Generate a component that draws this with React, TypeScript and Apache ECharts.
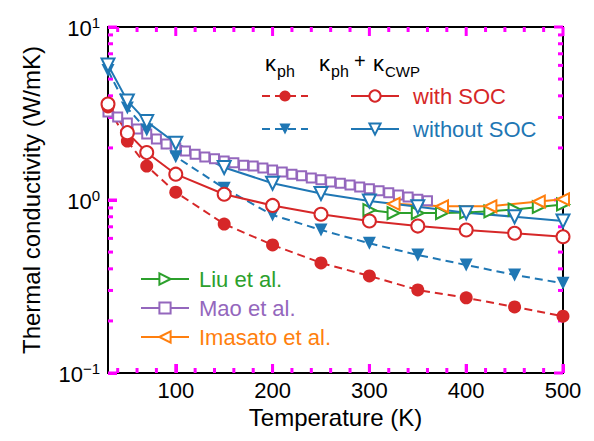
import React, { useEffect, useRef } from "react";
import * as echarts from "echarts";

const FONT = '"Liberation Sans", Arial, Helvetica, sans-serif';
const RED = "#d62728";
const BLUE = "#1f77b4";
const GREEN = "#2ca02c";
const PURPLE = "#9467bd";
const ORANGE = "#ff7f0e";
const TICK = "#ff00ff";

const temps = [30, 50, 70, 100, 150, 200, 250, 300, 350, 400, 450, 500];
const kphSOC = [3.45, 2.19, 1.57, 1.11, 0.726, 0.55, 0.433, 0.364, 0.302, 0.272, 0.241, 0.213];
const kphCwpSOC = [3.59, 2.45, 1.88, 1.41, 1.08, 0.93, 0.827, 0.756, 0.707, 0.671, 0.642, 0.613];
const kphNoSOC = [5.6, 3.4, 2.54, 1.78, 1.17, 0.819, 0.671, 0.562, 0.481, 0.421, 0.369, 0.33];
const kphCwpNoSOC = [6.03, 3.74, 2.84, 2.13, 1.54, 1.25, 1.09, 0.987, 0.915, 0.845, 0.8, 0.756];

const liuT = [300, 325, 350, 375, 400, 425, 450, 475, 500];
const liuK = [0.875, 0.841, 0.841, 0.841, 0.847, 0.86, 0.881, 0.911, 0.942];
const maoT = [30, 40, 50, 60, 70, 80, 90, 100, 110, 120, 130, 140, 150, 160, 170, 180, 190, 200, 210, 220, 230, 240, 250, 260, 270, 280, 290, 300, 310, 320, 330, 340, 350, 360];
const maoK = [3.23, 3.02, 2.79, 2.57, 2.41, 2.25, 2.11, 2.0, 1.92, 1.84, 1.77, 1.73, 1.68, 1.64, 1.59, 1.57, 1.53, 1.49, 1.45, 1.41, 1.38, 1.34, 1.31, 1.27, 1.25, 1.22, 1.19, 1.16, 1.13, 1.1, 1.07, 1.04, 1.01, 0.99];
const imasatoT = [325, 375, 425, 475, 500];
const imasatoK = [0.95, 0.92, 0.92, 0.98, 1.01];

const xMajor = [100, 200, 300, 400, 500];
const xMinor = [40, 60, 80, 120, 140, 160, 180, 220, 240, 260, 280, 320, 340, 360, 380, 420, 440, 460, 480];
const yMajor = [0.1, 1, 10];
const yMinor = [0.2, 0.3, 0.4, 0.5, 0.6, 0.7, 0.8, 0.9, 2, 3, 4, 5, 6, 7, 8, 9];

const X_MIN = 30;
const X_MAX = 500;
const Y_MIN = 0.1;
const Y_MAX = 10;

const pairs = (xs: number[], ys: number[]) => xs.map((x, i) => [x, ys[i]]);

const NAMES = {
  kphSOC: "κph with SOC",
  kphNoSOC: "κph without SOC",
  cwpSOC: "with SOC",
  cwpNoSOC: "without SOC",
  liu: "Liu et al.",
  mao: "Mao et al.",
  ima: "Imasato et al.",
};

function supLabel(v: number) {
  const e = Math.round(Math.log10(v));
  const s = e < 0 ? "−" + -e : String(e);
  return `{b|10}{s|${s}}`;
}

export default function App() {
  const ref = useRef<HTMLDivElement>(null);
  useEffect(() => {
    if (!ref.current) return;
    const chart = echarts.init(ref.current, undefined, { renderer: "svg" });
    const openItem = (c: string) => ({ color: "#fff", borderColor: c, borderWidth: 2 });
    const tickLine = (x1: number, y1: number, x2: number, y2: number) => ({
      type: "line",
      shape: { x1, y1, x2, y2 },
      style: { stroke: TICK, lineWidth: 3 },
    });

    const xTickData = [...xMajor.map((v) => [v, 1, 1]), ...xMinor.map((v) => [v, 1, 0])];
    const yTickData = [...yMajor.map((v) => [100, v, 1]), ...yMinor.map((v) => [100, v, 0])];

    const headerTexts: any[] = [
      { type: "text", x: 265, y: 63, style: { text: "κ", fontSize: 22, fontFamily: FONT, fill: "#000", verticalAlign: "middle" } },
      { type: "text", x: 277, y: 71, style: { text: "ph", fontSize: 16, fontFamily: FONT, fill: "#000", verticalAlign: "middle" } },
      { type: "text", x: 319, y: 63, style: { text: "κ", fontSize: 22, fontFamily: FONT, fill: "#000", verticalAlign: "middle" } },
      { type: "text", x: 331, y: 71, style: { text: "ph", fontSize: 16, fontFamily: FONT, fill: "#000", verticalAlign: "middle" } },
      { type: "text", x: 354, y: 61, style: { text: "+", fontSize: 20, fontFamily: FONT, fill: "#000", verticalAlign: "middle" } },
      { type: "text", x: 373, y: 63, style: { text: "κ", fontSize: 22, fontFamily: FONT, fill: "#000", verticalAlign: "middle" } },
      { type: "text", x: 385, y: 71, style: { text: "CWP", fontSize: 15, fontFamily: FONT, fill: "#000", verticalAlign: "middle" } },
    ];

    const option: any = {
      animation: false,
      textStyle: { fontFamily: FONT },
      grid: { left: 108, right: 31, top: 27, bottom: 68, show: true, borderColor: "#000", borderWidth: 2 },
      xAxis: {
        type: "value",
        min: X_MIN,
        max: X_MAX,
        name: "Temperature (K)",
        nameLocation: "middle",
        nameGap: 32,
        nameTextStyle: { fontSize: 24, fontFamily: FONT, color: "#000" },
        axisLine: { show: false, onZero: false },
        axisTick: { show: true, inside: true, length: 9, customValues: xMajor, lineStyle: { color: TICK, width: 3 } },
        axisLabel: { customValues: xMajor, fontSize: 22, fontFamily: FONT, color: "#000", margin: 6 },
        splitLine: { show: false },
      },
      yAxis: {
        type: "log",
        logBase: 10,
        min: Y_MIN,
        max: Y_MAX,
        name: "Thermal conductivity (W/mK)",
        nameLocation: "middle",
        nameGap: 65,
        nameTextStyle: { fontSize: 24, fontFamily: FONT, color: "#000" },
        axisLine: { show: false },
        axisTick: { show: true, inside: true, length: 9, lineStyle: { color: TICK, width: 3 } },
        axisLabel: {
          margin: 8,
          formatter: (v: number) => supLabel(v),
          rich: {
            b: { fontSize: 22, fontFamily: FONT, color: "#000", lineHeight: 24, padding: [6, 0, 0, 0], verticalAlign: "bottom" },
            s: { fontSize: 15, fontFamily: FONT, color: "#000", lineHeight: 16, verticalAlign: "top" },
          },
        },
        splitLine: { show: false },
      },
      legend: [
        {
          orient: "vertical", left: 256, top: 80, itemWidth: 46, itemHeight: 14, itemGap: 11, selectedMode: false,
          formatter: () => " ", textStyle: { fontSize: 22, fontFamily: FONT },
          data: [NAMES.kphSOC, NAMES.kphNoSOC],
        },
        {
          orient: "vertical", left: 345, top: 80, itemWidth: 48, itemHeight: 14, itemGap: 11, selectedMode: false,
          textStyle: { fontSize: 22, fontFamily: FONT, padding: [0, 0, 0, 9] },
          data: [
            { name: NAMES.cwpSOC, textStyle: { color: RED } },
            { name: NAMES.cwpNoSOC, textStyle: { color: BLUE } },
          ],
        },
        {
          orient: "vertical", left: 135, top: 263, itemWidth: 48, itemHeight: 14, itemGap: 7, selectedMode: false,
          textStyle: { fontSize: 22, fontFamily: FONT, padding: [0, 0, 0, 5] },
          data: [
            { name: NAMES.liu, textStyle: { color: GREEN } },
            { name: NAMES.mao, textStyle: { color: PURPLE } },
            { name: NAMES.ima, textStyle: { color: ORANGE } },
          ],
        },
      ],
      graphic: headerTexts,
      series: [
        {
          type: "custom",
          data: xTickData,
          renderItem: (params: any, api: any) => {
            const p = api.coord([api.value(0), Y_MIN]);
            const t = api.coord([api.value(0), Y_MAX]);
            const len = api.value(2) ? 9 : 5;
            return { type: "group", children: [tickLine(p[0], p[1], p[0], p[1] - len), tickLine(t[0], t[1], t[0], t[1] + len)] };
          },
        },
        {
          type: "custom",
          data: yTickData,
          renderItem: (params: any, api: any) => {
            const l = api.coord([X_MIN, api.value(1)]);
            const r = api.coord([X_MAX, api.value(1)]);
            const len = api.value(2) ? 9 : 5;
            return { type: "group", children: [tickLine(l[0], l[1], l[0] + len, l[1]), tickLine(r[0], r[1], r[0] - len, r[1])] };
          },
        },
        { name: NAMES.mao, type: "line", data: pairs(maoT, maoK), symbol: "rect", symbolSize: 9, itemStyle: openItem(PURPLE), lineStyle: { color: PURPLE, width: 2 } },
        { name: NAMES.liu, type: "line", data: pairs(liuT, liuK), symbol: "triangle", symbolRotate: -90, symbolSize: 12, itemStyle: openItem(GREEN), lineStyle: { color: GREEN, width: 2 } },
        { name: NAMES.ima, type: "line", data: pairs(imasatoT, imasatoK), symbol: "triangle", symbolRotate: 90, symbolSize: 12, itemStyle: openItem(ORANGE), lineStyle: { color: ORANGE, width: 2 } },
        { name: NAMES.kphNoSOC, type: "line", data: pairs(temps, kphNoSOC), symbol: "triangle", symbolRotate: 180, symbolSize: 13, itemStyle: { color: BLUE }, lineStyle: { color: BLUE, width: 2, type: [8, 5] } },
        { name: NAMES.cwpNoSOC, type: "line", data: pairs(temps, kphCwpNoSOC), symbol: "triangle", symbolRotate: 180, symbolSize: 13, itemStyle: openItem(BLUE), lineStyle: { color: BLUE, width: 2 } },
        { name: NAMES.kphSOC, type: "line", data: pairs(temps, kphSOC), symbol: "circle", symbolSize: 13, itemStyle: { color: RED }, lineStyle: { color: RED, width: 2, type: [8, 5] } },
        { name: NAMES.cwpSOC, type: "line", data: pairs(temps, kphCwpSOC), symbol: "circle", symbolSize: 13, itemStyle: openItem(RED), lineStyle: { color: RED, width: 2 } },
      ],
    };
    chart.setOption(option);
    return () => chart.dispose();
  }, []);
  return <div ref={ref} style={{ position: "absolute", left: 0, top: 0, width: 594, height: 441 }} />;
}
